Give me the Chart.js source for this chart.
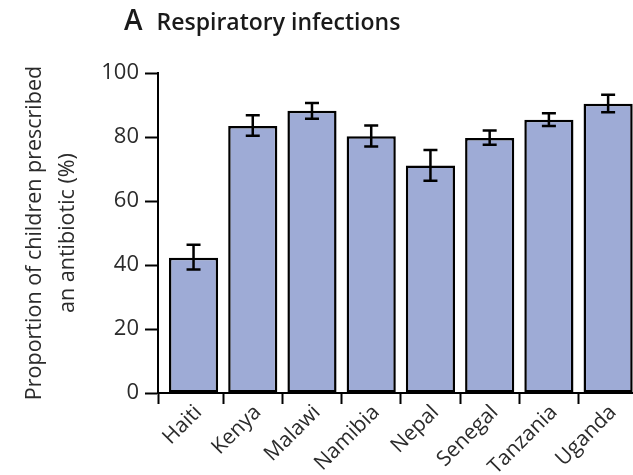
<!DOCTYPE html>
<html><head><meta charset="utf-8">
<script src="https://cdn.jsdelivr.net/npm/chart.js@4"></script>
<style>
html,body{margin:0;padding:0;background:#fff;overflow:hidden}
#wrap{position:relative;width:633px;height:475px}
#title{position:absolute;left:124px;top:5px;font-family:"Open Sans";font-weight:600;color:#1a1a1a;white-space:nowrap;line-height:1;display:flex;align-items:baseline}
#title .a{font-size:28px}
#title .t{font-size:23px;margin-left:14px}
canvas{position:absolute;left:0;top:0}
</style></head><body>
<div id="wrap"><canvas id="c" width="633" height="475"></canvas>
<div id="title"><span class="a">A</span><span class="t">Respiratory infections</span></div></div>
<script>
const categories = ['Haiti','Kenya','Malawi','Namibia','Nepal','Senegal','Tanzania','Uganda'];
const proportions = [42.3, 83.4, 88.2, 80.2, 71.1, 79.7, 85.4, 90.4];
const ciLower = [38.6, 80.4, 85.7, 77.0, 66.3, 77.6, 83.4, 87.7];
const ciUpper = [46.3, 86.8, 90.6, 83.6, 75.9, 82.0, 87.4, 93.2];
const yTicks = [0, 20, 40, 60, 80, 100];
const yTitle = ['Proportion of children prescribed', 'an antibiotic (%)'];
const xBoundaries = [-0.6, 0.5, 1.5, 2.5, 3.5, 4.5, 5.5, 6.5];

const errorBars = {
  id: 'errorBars',
  afterDatasetsDraw(chart) {
    const ctx = chart.ctx, y = chart.scales.y;
    const meta = chart.getDatasetMeta(0);
    ctx.save();
    ctx.strokeStyle = '#000';
    ctx.lineWidth = 2.5;
    meta.data.forEach((bar, i) => {
      const x = bar.x;
      const yl = y.getPixelForValue(ciLower[i]);
      const yu = y.getPixelForValue(ciUpper[i]);
      ctx.beginPath();
      ctx.moveTo(x, yl); ctx.lineTo(x, yu);
      ctx.moveTo(x - 7, yl); ctx.lineTo(x + 7, yl);
      ctx.moveTo(x - 7, yu); ctx.lineTo(x + 7, yu);
      ctx.stroke();
    });
    ctx.restore();
  }
};

new Chart(document.getElementById('c'), {
  type: 'bar',
  data: {
    datasets: [{
      data: categories.map((c, i) => ({ x: i, y: proportions[i] })),
      backgroundColor: '#9eabd6',
      borderColor: '#000',
      borderWidth: 2.5,
      borderSkipped: false,
      barPercentage: 0.83,
      categoryPercentage: 1,
      xAxisID: 'x',
      yAxisID: 'y'
    }]
  },
  options: {
    responsive: false,
    animation: false,
    devicePixelRatio: 1,
    layout: { padding: { top: 73, left: 0, right: 0, bottom: 0 } },
    plugins: { legend: { display: false }, tooltip: { enabled: false }, title: { display: false } },
    scales: {
      x: {
        type: 'linear', min: -0.6, max: 7.42, position: 'bottom', weight: 0, offset: false,
        border: { display: true, color: '#000', width: 2 },
        grid: { display: true, offset: false, drawOnChartArea: false, drawTicks: true, tickLength: 11, tickWidth: 2, tickColor: '#000', color: '#000' },
        ticks: { display: false },
        afterBuildTicks(s) { s.ticks = xBoundaries.map(v => ({ value: v })); },
        afterFit(s) { s.height = 11; }
      },
      x2: {
        type: 'linear', min: -0.6, max: 7.42, position: 'bottom', weight: 1, offset: false,
        border: { display: false }, grid: { display: false, offset: false },
        ticks: {
          autoSkip: false, maxRotation: 45, minRotation: 45, padding: -12, labelOffset: 5,
          color: '#2b2b2b', font: { family: 'Open Sans', size: 21 },
          callback: (v) => categories[v] ?? ''
        },
        afterBuildTicks(s) { s.ticks = categories.map((c, i) => ({ value: i })); },
        afterFit(s) { s.height = 71; }
      },
      y: {
        min: 0, max: 100, position: 'left',
        border: { display: true, color: '#000', width: 2 },
        grid: { drawOnChartArea: false, drawTicks: true, tickLength: 13, tickWidth: 2, tickColor: '#000' },
        ticks: { padding: 6, color: '#2b2b2b', font: { family: 'Open Sans', size: 22 } },
        afterBuildTicks(s) { s.ticks = yTicks.map(v => ({ value: v })); },
        title: { display: true, text: yTitle, color: '#2b2b2b', font: { family: 'Open Sans', size: 21.5, lineHeight: 1.5 }, padding: { top: 19, bottom: 0 } },
        afterFit(s) { s.width = 158; }
      }
    }
  },
  plugins: [errorBars]
});
</script>
</body></html>
